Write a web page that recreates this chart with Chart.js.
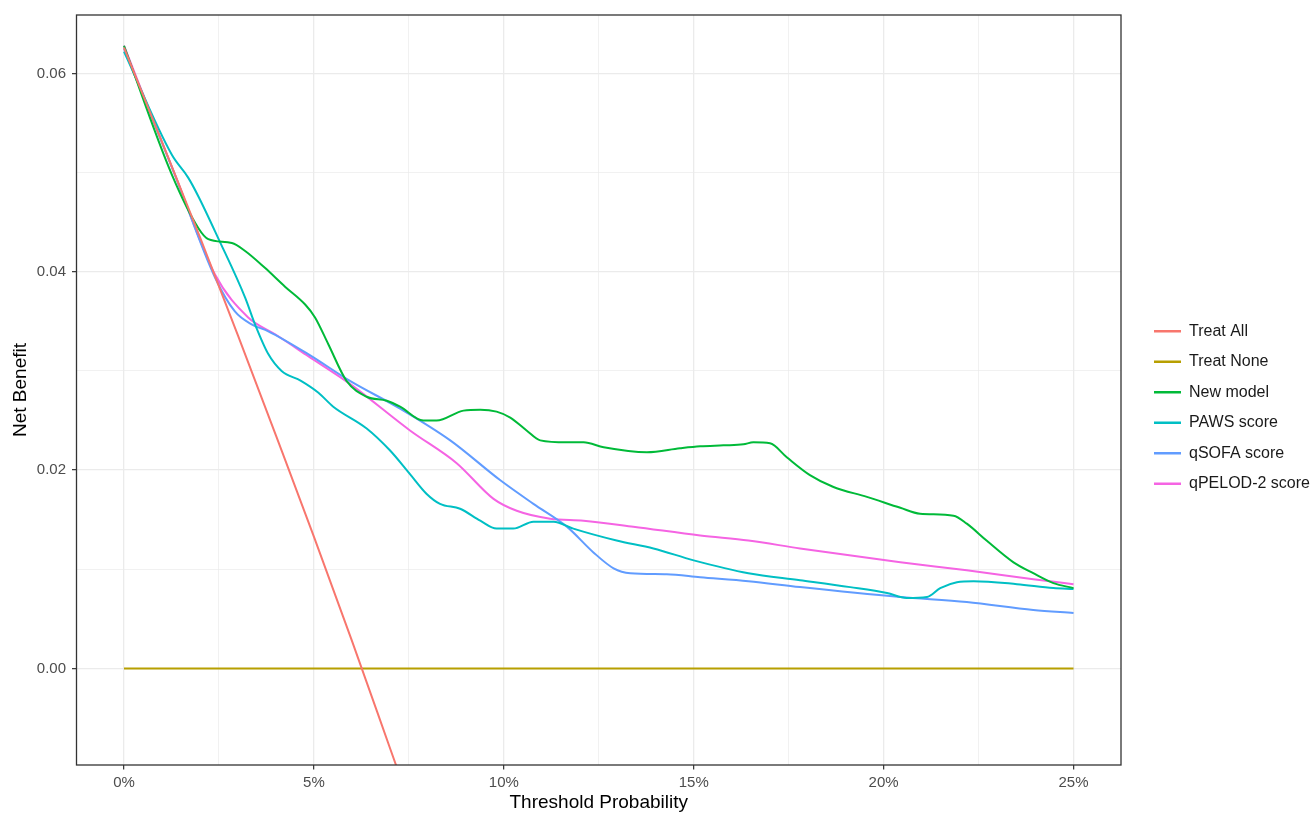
<!DOCTYPE html>
<html>
<head>
<meta charset="utf-8">
<script src="https://cdn.jsdelivr.net/npm/chart.js@4.4.1/dist/chart.umd.min.js"></script>
<style>
html,body{margin:0;padding:0;background:#ffffff;}
#wrap{width:1313px;height:815px;position:relative;}
</style>
</head>
<body>
<div id="wrap"><canvas id="c" width="1313" height="815"></canvas></div>
<script>
// ---------- data (threshold probability in %, net benefit) ----------
const seriesNames = ['Treat All', 'Treat None', 'New model', 'PAWS score', 'qSOFA score', 'qPELOD-2 score'];
const seriesColors = ['#F8766D', '#B79F00', '#00BA38', '#00BFC4', '#619CFF', '#F564E3'];

const treatAllX = [0, 1, 2, 3, 4, 5, 6, 7, 7.5];
const treatAllY = [0.0626, 0.0531, 0.0435, 0.0336, 0.0235, 0.0133, 0.0028, -0.0080, -0.0134];

const treatNoneX = [0, 25];
const treatNoneY = [0, 0];

const newModelX = [0, 1.26, 1.96, 2.22, 2.84, 3.19, 3.71, 4.24, 4.77, 5.03, 5.38, 5.86, 6.39, 6.92, 7.27, 7.88, 8.23, 8.94, 9.38, 9.81, 10.17, 10.6, 10.96, 11.66, 12.1, 12.63, 13.77, 14.64, 15.17, 15.78, 16.31, 16.57, 17.01, 17.45, 18.06, 18.68, 19.56, 20.44, 20.96, 21.84, 22.19, 22.71, 23.42, 23.94, 24.47, 25];
const newModelY = [0.0628, 0.0498, 0.0444, 0.0433, 0.0429, 0.0421, 0.0404, 0.0385, 0.0367, 0.0354, 0.0327, 0.0290, 0.0274, 0.0270, 0.0264, 0.0250, 0.0250, 0.0260, 0.0261, 0.0259, 0.0253, 0.0240, 0.0230, 0.0228, 0.0228, 0.0223, 0.0218, 0.0222, 0.0224, 0.0225, 0.0226, 0.0228, 0.0227, 0.0213, 0.0195, 0.0183, 0.0173, 0.0162, 0.0156, 0.0154, 0.0146, 0.0129, 0.0107, 0.0096, 0.0086, 0.0081];

const pawsX = [0, 1.26, 1.69, 1.96, 2.48, 3.19, 3.45, 3.8, 4.15, 4.66, 5.12, 5.51, 6.39, 7.0, 7.53, 7.97, 8.32, 8.85, 9.38, 9.81, 10.25, 10.78, 11.31, 11.83, 12.97, 13.94, 15.0, 16.44, 17.8, 19.12, 20.09, 20.61, 21.14, 21.49, 21.93, 22.37, 23.51, 24.47, 25];
const pawsY = [0.0622, 0.0518, 0.0495, 0.0476, 0.0434, 0.0374, 0.0347, 0.0317, 0.0300, 0.0290, 0.0278, 0.0264, 0.0242, 0.0220, 0.0196, 0.0176, 0.0166, 0.0161, 0.0149, 0.0141, 0.0141, 0.0148, 0.0148, 0.0141, 0.0129, 0.0121, 0.0109, 0.0096, 0.0089, 0.0082, 0.0076, 0.0071, 0.0072, 0.0081, 0.0087, 0.0088, 0.0085, 0.0081, 0.0080];

const qsofaX = [0, 1.34, 2.4, 2.92, 3.36, 3.8, 4.85, 5.95, 7.27, 8.59, 9.9, 10.78, 11.66, 12.36, 12.89, 13.33, 14.29, 15.17, 16.44, 17.8, 20.44, 22.19, 23.94, 25];
const qsofaY = [0.0625, 0.0498, 0.0394, 0.0360, 0.0347, 0.0340, 0.0317, 0.0290, 0.0262, 0.0230, 0.0190, 0.0166, 0.0143, 0.0117, 0.0101, 0.0096, 0.0095, 0.0092, 0.0088, 0.0082, 0.0072, 0.0067, 0.0059, 0.0056];

const qpelodX = [0, 1.34, 2.4, 3.27, 3.98, 4.85, 5.95, 7.53, 8.76, 9.73, 10.34, 11.22, 12.1, 13.41, 15.17, 16.44, 17.8, 20.44, 22.19, 23.94, 25];
const qpelodY = [0.0628, 0.0498, 0.0397, 0.0354, 0.0337, 0.0315, 0.0287, 0.0240, 0.0207, 0.0171, 0.0159, 0.0151, 0.0149, 0.0143, 0.0134, 0.0129, 0.0121, 0.0107, 0.0099, 0.0090, 0.0085];

const xMajorTicks = [0, 5, 10, 15, 20, 25];
const xTickLabels = ['0%', '5%', '10%', '15%', '20%', '25%'];
const xMinorTicks = [2.5, 7.5, 12.5, 17.5, 22.5];
const yMajorTicks = [0, 0.02, 0.04, 0.06];
const yTickLabels = ['0.00', '0.02', '0.04', '0.06'];
const yMinorTicks = [0.01, 0.03, 0.05];

// ---------- layout constants ----------
const W = 1313, H = 815;
const PLOT_LEFT = 76.5, PLOT_TOP = 14, PLOT_RIGHT = 1121, PLOT_BOTTOM = 765;
const FONT = "'Liberation Sans', Arial, Helvetica, sans-serif";

function pts(xs, ys) { return xs.map((x, i) => ({ x: x, y: ys[i] })); }

const seriesData = [
  pts(treatAllX, treatAllY),
  pts(treatNoneX, treatNoneY),
  pts(newModelX, newModelY),
  pts(pawsX, pawsY),
  pts(qsofaX, qsofaY),
  pts(qpelodX, qpelodY)
];

const datasets = seriesNames.map((name, i) => ({
  label: name,
  data: seriesData[i],
  borderColor: seriesColors[i],
  backgroundColor: seriesColors[i],
  borderWidth: 2,
  pointRadius: 0,
  pointHoverRadius: 0,
  fill: false,
  clip: 0,
  cubicInterpolationMode: 'monotone'
}));

const xTickValues = xMajorTicks.concat(xMinorTicks).sort((a, b) => a - b);
const yTickValues = yMajorTicks.concat(yMinorTicks).sort((a, b) => a - b);

const panelBorder = {
  id: 'panelBorder',
  afterDatasetsDraw(chart) {
    const { ctx, chartArea: a } = chart;
    ctx.save();
    ctx.strokeStyle = '#333333';
    ctx.lineWidth = 1.3;
    ctx.strokeRect(a.left, a.top, a.right - a.left, a.bottom - a.top);
    ctx.restore();
  }
};

new Chart(document.getElementById('c'), {
  type: 'line',
  data: { datasets: datasets },
  plugins: [panelBorder],
  options: {
    responsive: false,
    animation: false,
    devicePixelRatio: 1,
    layout: { padding: 0 },
    plugins: {
      tooltip: { enabled: false },
      title: { display: false },
      legend: {
        display: true,
        position: 'right',
        align: 'center',
        maxWidth: W - (1154 - 14.5),
        labels: {
          boxWidth: 27,
          boxHeight: 2.5,
          padding: 14.5,
          color: '#1a1a1a',
          font: { family: FONT, size: 16 },
          generateLabels(chart) {
            const items = Chart.defaults.plugins.legend.labels.generateLabels(chart);
            items.forEach(it => { it.lineWidth = 0; it.fillStyle = it.strokeStyle; });
            return items;
          }
        }
      }
    },
    scales: {
      x: {
        type: 'linear',
        position: 'bottom',
        min: -1.25,
        max: 26.25,
        afterBuildTicks(s) { s.ticks = xTickValues.map(v => ({ value: v })); },
        afterFit(s) { s.height = H - PLOT_BOTTOM; },
        grid: {
          color: '#ebebeb',
          lineWidth: c => (xMajorTicks.indexOf(c.tick && c.tick.value) >= 0 ? 1.3 : 0.7),
          drawTicks: true,
          tickLength: 4.5,
          tickWidth: 1.2,
          tickColor: c => (xMajorTicks.indexOf(c.tick && c.tick.value) >= 0 ? '#333333' : 'rgba(0,0,0,0)')
        },
        border: { display: false },
        ticks: {
          autoSkip: false,
          maxRotation: 0,
          padding: 4,
          color: '#4d4d4d',
          font: { family: FONT, size: 15 },
          callback(v) { const i = xMajorTicks.indexOf(v); return i >= 0 ? xTickLabels[i] : ''; }
        },
        title: {
          display: true,
          text: 'Threshold Probability',
          color: '#000000',
          font: { family: FONT, size: 19 },
          padding: { top: 0, bottom: 0.6 }
        }
      },
      y: {
        type: 'linear',
        position: 'left',
        min: -0.00974,
        max: 0.0659,
        afterBuildTicks(s) { s.ticks = yTickValues.map(v => ({ value: v })); },
        afterFit(s) { s.width = PLOT_LEFT; },
        grid: {
          color: '#ebebeb',
          lineWidth: c => (yMajorTicks.indexOf(c.tick && c.tick.value) >= 0 ? 1.3 : 0.7),
          drawTicks: true,
          tickLength: 4.5,
          tickWidth: 1.2,
          tickColor: c => (yMajorTicks.indexOf(c.tick && c.tick.value) >= 0 ? '#333333' : 'rgba(0,0,0,0)')
        },
        border: { display: false },
        ticks: {
          autoSkip: false,
          padding: 6,
          color: '#4d4d4d',
          font: { family: FONT, size: 15 },
          callback(v) { const i = yMajorTicks.indexOf(v); return i >= 0 ? yTickLabels[i] : ''; }
        },
        title: {
          display: true,
          text: 'Net Benefit',
          color: '#000000',
          font: { family: FONT, size: 19 },
          padding: { top: 9, bottom: 0 }
        }
      },
      topSpacer: {
        type: 'linear',
        position: 'top',
        display: true,
        grid: { display: false, drawTicks: false },
        ticks: { display: false },
        border: { display: false },
        afterFit(s) { s.height = PLOT_TOP; }
      },
      rightSpacer: {
        type: 'linear',
        position: 'right',
        display: true,
        grid: { display: false, drawTicks: false },
        ticks: { display: false },
        border: { display: false },
        afterFit(s) { s.width = Math.max(0, W - PLOT_RIGHT - (s.chart.legend ? s.chart.legend.width : 0)); }
      }
    }
  }
});
</script>
</body>
</html>
